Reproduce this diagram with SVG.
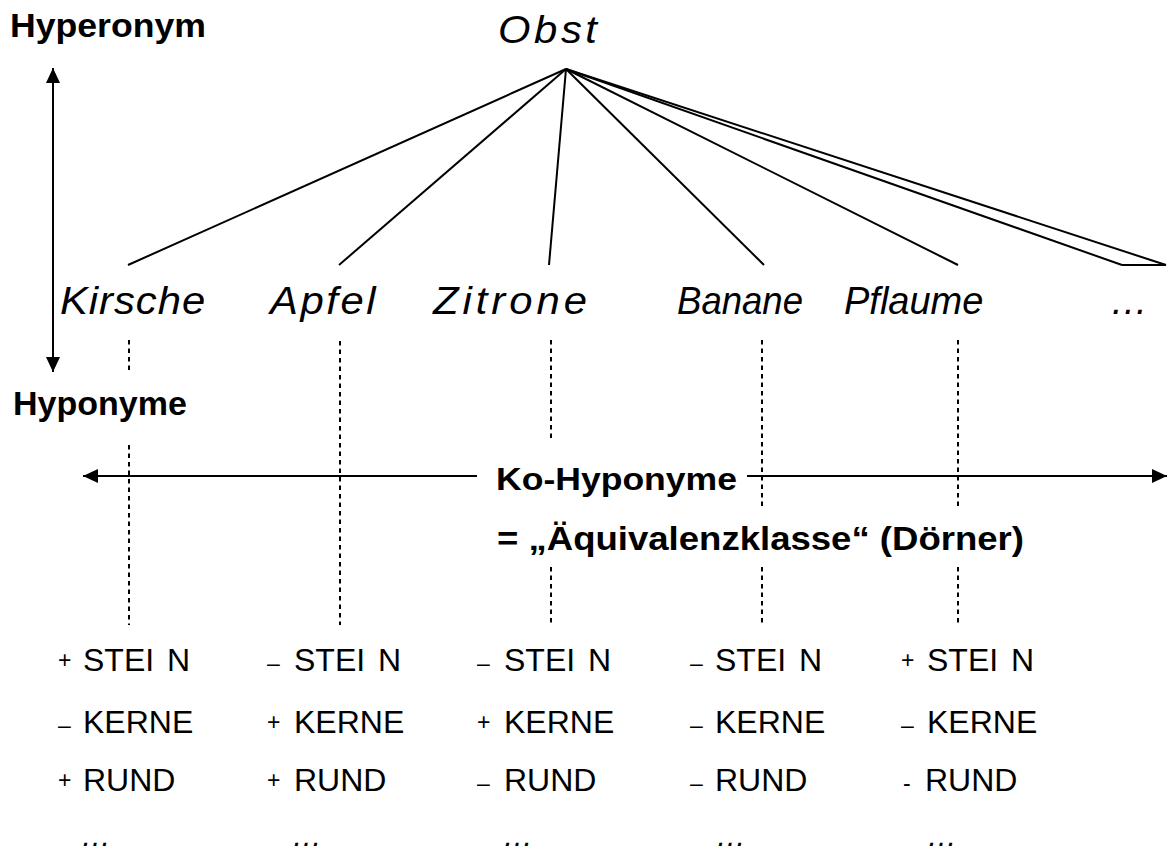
<svg xmlns="http://www.w3.org/2000/svg" width="1168" height="850" viewBox="0 0 1168 850">
  <style>
    .bold { font-family: "Liberation Sans", Arial, sans-serif; font-weight: bold; fill: #000; }
    .term { font-family: "Liberation Sans", Arial, sans-serif; font-style: italic; font-size: 38px; fill: #000; }
    .feat { font-family: "Liberation Sans", Arial, sans-serif; font-size: 32px; fill: #000; }
    .sign { font-size: 23px; }
    .more { font-family: "Liberation Sans", Arial, sans-serif; font-style: italic; font-size: 30px; fill: #000; }
    .edge { stroke: #000; stroke-width: 2; fill: none; }
    .dots { stroke: #000; stroke-width: 2; stroke-dasharray: 4.5 4; fill: none; }
    .axis { stroke: #000; stroke-width: 2; fill: none; }
  </style>
  <defs>
    <marker id="head" viewBox="0 0 15 14" refX="15" refY="7" markerWidth="15" markerHeight="14" markerUnits="userSpaceOnUse" orient="auto-start-reverse">
      <path d="M0,0 L15,7 L0,14 Z" fill="#000"/>
    </marker>
  </defs>

  <rect width="1168" height="850" fill="#fff"/>

  <!-- axis labels -->
  <g id="hyperonym-label">
    <text class="bold" x="10" y="37" font-size="34" textLength="196" lengthAdjust="spacingAndGlyphs">Hyperonym</text>
  </g>
  <g id="hyponyme-label">
    <text class="bold" x="13" y="415" font-size="34">Hyponyme</text>
  </g>

  <!-- tree connectors, dotted guides and arrows -->
  <g id="connectors">
    <line class="edge" x1="566" y1="69" x2="128" y2="265"/>
    <line class="edge" x1="566" y1="69" x2="339" y2="265"/>
    <line class="edge" x1="566" y1="69" x2="549" y2="265"/>
    <line class="edge" x1="566" y1="69" x2="764" y2="265"/>
    <line class="edge" x1="566" y1="69" x2="958" y2="265"/>
    <line class="edge" x1="566" y1="69" x2="1122" y2="265"/>
    <line class="edge" x1="566" y1="69" x2="1166" y2="265"/>
    <line class="edge" x1="1122" y1="265" x2="1166" y2="265"/>

    <line class="axis" x1="53" y1="68" x2="53" y2="372" marker-start="url(#head)" marker-end="url(#head)"/>
    <line class="axis" x1="83" y1="476" x2="477" y2="476" marker-start="url(#head)"/>
    <line class="axis" x1="747" y1="476" x2="1167" y2="476" marker-end="url(#head)"/>

    <path class="dots" d="M129,340 V370 M129,445 V625"/>
    <path class="dots" d="M340,341 V625"/>
    <path class="dots" d="M551,340 V440 M551,567 V625"/>
    <path class="dots" d="M762,340 V507 M762,567 V625"/>
    <path class="dots" d="M958,340 V507 M958,567 V625"/>
  </g>

  <!-- the category terms are set slightly wide -->
  <g id="obst">
    <text class="term" transform="translate(498,43) scale(1.1,1)" font-size="40" textLength="90" lengthAdjust="spacing">Obst</text>
  </g>

  <g id="kirsche">
    <text class="term" transform="translate(60,314) scale(1.1,1)" textLength="132" lengthAdjust="spacing">Kirsche</text>
    <text class="feat" y="671"><tspan class="sign" x="58" y="668">+</tspan><tspan x="83" y="671">STEI</tspan><tspan x="167">N</tspan></text>
    <text class="feat" y="733"><tspan class="sign" x="58">–</tspan><tspan x="83">KERNE</tspan></text>
    <text class="feat" y="791"><tspan class="sign" x="58" y="788">+</tspan><tspan x="83" y="791">RUND</tspan></text>
    <text class="more" x="81" y="846">…</text>
  </g>

  <g id="apfel">
    <text class="term" transform="translate(270,314) scale(1.1,1)" textLength="96" lengthAdjust="spacing">Apfel</text>
    <text class="feat" y="671"><tspan class="sign" x="267">–</tspan><tspan x="294">STEI</tspan><tspan x="378">N</tspan></text>
    <text class="feat" y="733"><tspan class="sign" x="267" y="730">+</tspan><tspan x="294" y="733">KERNE</tspan></text>
    <text class="feat" y="791"><tspan class="sign" x="267" y="788">+</tspan><tspan x="294" y="791">RUND</tspan></text>
    <text class="more" x="292" y="846">…</text>
  </g>

  <g id="zitrone">
    <text class="term" transform="translate(433,314) scale(1.1,1)" textLength="140" lengthAdjust="spacing">Zitrone</text>
    <text class="feat" y="671"><tspan class="sign" x="477">–</tspan><tspan x="504">STEI</tspan><tspan x="588">N</tspan></text>
    <text class="feat" y="733"><tspan class="sign" x="477" y="730">+</tspan><tspan x="504" y="733">KERNE</tspan></text>
    <text class="feat" y="791"><tspan class="sign" x="477">–</tspan><tspan x="504">RUND</tspan></text>
    <text class="more" x="503" y="846">…</text>
  </g>

  <g id="banane">
    <text class="term" x="677" y="314" textLength="126" lengthAdjust="spacingAndGlyphs">Banane</text>
    <text class="feat" y="671"><tspan class="sign" x="690">–</tspan><tspan x="715">STEI</tspan><tspan x="799">N</tspan></text>
    <text class="feat" y="733"><tspan class="sign" x="690">–</tspan><tspan x="715">KERNE</tspan></text>
    <text class="feat" y="791"><tspan class="sign" x="690">–</tspan><tspan x="715">RUND</tspan></text>
    <text class="more" x="716" y="846">…</text>
  </g>

  <g id="pflaume">
    <text class="term" x="844" y="314">Pflaume</text>
    <text class="feat" y="671"><tspan class="sign" x="901" y="668">+</tspan><tspan x="927" y="671">STEI</tspan><tspan x="1011">N</tspan></text>
    <text class="feat" y="733"><tspan class="sign" x="901">–</tspan><tspan x="927">KERNE</tspan></text>
    <text class="feat" y="791"><tspan class="sign" x="903">-</tspan><tspan x="925">RUND</tspan></text>
    <text class="more" x="927" y="846">…</text>
  </g>

  <g id="weitere">
    <text class="term" x="1110" y="314">…</text>
  </g>

  <g id="ko-hyponyme">
    <text class="bold" x="496" y="490" font-size="32" textLength="241" lengthAdjust="spacingAndGlyphs">Ko-Hyponyme</text>
    <text class="bold" x="497" y="550" font-size="33" textLength="527" lengthAdjust="spacingAndGlyphs">= „Äquivalenzklasse“ (Dörner)</text>
  </g>
</svg>
